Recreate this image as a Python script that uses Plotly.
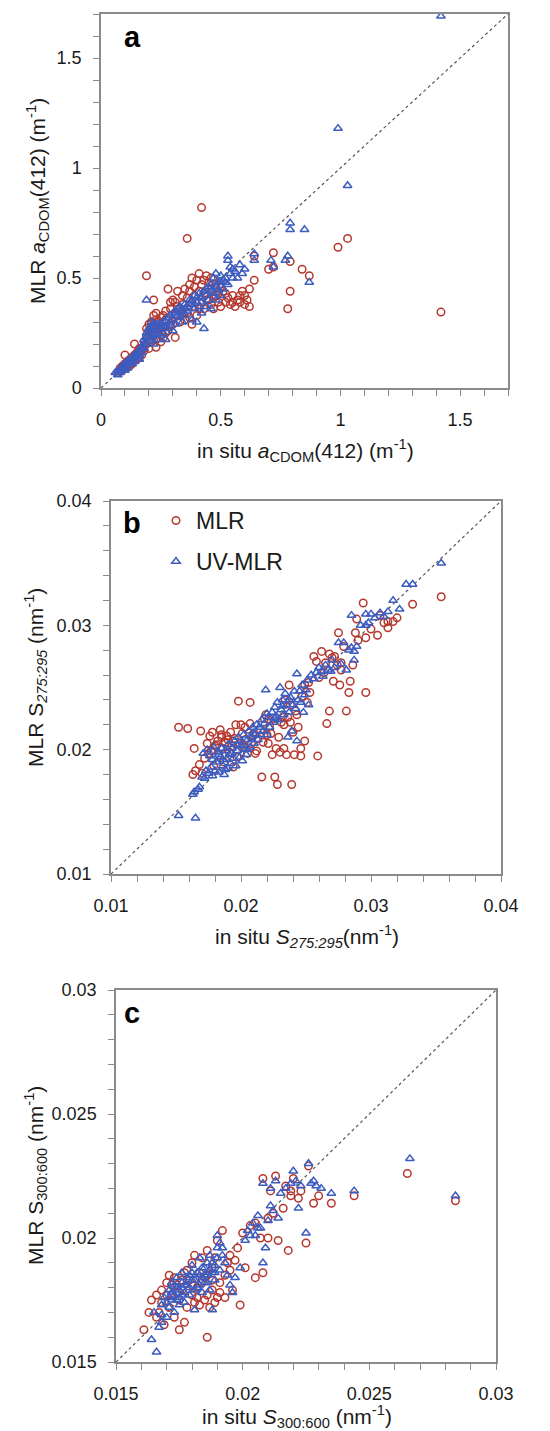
import plotly.graph_objects as go

# ---------------- data ----------------
# Panel a: aCDOM(412) (m^-1)
a_mlr_x = [0.07,0.08,0.09,0.09,0.10,0.10,0.11,0.11,0.12,0.12,0.13,0.13,0.14,0.14,0.10,0.15,0.15,0.16,0.16,0.17,0.17,0.18,0.18,0.19,0.19,0.19,0.20,0.20,0.20,0.21,0.21,0.21,0.22,0.22,0.22,0.23,0.23,0.23,0.24,0.25,0.25,0.26,0.26,0.27,0.27,0.28,0.28,0.29,0.29,0.30,0.30,0.31,0.31,0.32,0.33,0.33,0.34,0.34,0.35,0.35,0.36,0.36,0.37,0.37,0.38,0.38,0.39,0.39,0.40,0.40,0.41,0.41,0.42,0.42,0.43,0.43,0.44,0.44,0.45,0.45,0.46,0.46,0.47,0.48,0.48,0.49,0.50,0.50,0.51,0.52,0.53,0.54,0.55,0.56,0.57,0.58,0.59,0.60,0.61,0.62,0.62,0.64,0.64,0.70,0.72,0.72,0.79,0.84,0.87,0.79,0.78,0.99,1.03,1.42,
             0.08,0.09,0.10,0.11,0.12,0.13,0.14,0.15,0.16,0.17,0.18,0.19,0.20,0.21,0.22,0.23,0.24,0.25,0.26,0.27,0.29,0.31,0.32,0.34,0.36,0.37,0.39,0.41,0.43,0.45,0.47,0.49,0.52,0.55,0.58,0.60]
a_mlr_y = [0.07,0.08,0.09,0.08,0.09,0.11,0.10,0.12,0.12,0.10,0.11,0.14,0.13,0.20,0.15,0.15,0.13,0.16,0.14,0.15,0.18,0.17,0.19,0.20,0.27,0.51,0.22,0.29,0.18,0.24,0.30,0.21,0.26,0.33,0.40,0.34,0.22,0.185,0.30,0.27,0.21,0.23,0.28,0.31,0.25,0.26,0.45,0.39,0.28,0.40,0.29,0.23,0.39,0.44,0.36,0.30,0.42,0.34,0.45,0.31,0.68,0.34,0.44,0.32,0.50,0.29,0.46,0.37,0.49,0.33,0.52,0.36,0.82,0.47,0.49,0.36,0.51,0.40,0.45,0.40,0.38,0.50,0.36,0.42,0.47,0.39,0.37,0.46,0.44,0.39,0.41,0.38,0.42,0.37,0.40,0.39,0.44,0.42,0.40,0.45,0.37,0.49,0.60,0.54,0.55,0.615,0.575,0.54,0.51,0.44,0.36,0.64,0.68,0.345,
             0.09,0.10,0.10,0.11,0.13,0.12,0.15,0.16,0.18,0.17,0.21,0.23,0.26,0.27,0.29,0.31,0.25,0.32,0.33,0.35,0.36,0.33,0.37,0.38,0.41,0.47,0.42,0.44,0.43,0.48,0.41,0.43,0.43,0.39,0.42,0.38]
a_uv_x = [0.06,0.07,0.07,0.08,0.08,0.09,0.09,0.10,0.10,0.11,0.11,0.12,0.12,0.13,0.13,0.14,0.14,0.15,0.15,0.16,0.16,0.17,0.17,0.18,0.18,0.19,0.19,0.19,0.20,0.20,0.21,0.21,0.22,0.22,0.22,0.23,0.23,0.24,0.24,0.25,0.25,0.26,0.26,0.27,0.27,0.28,0.28,0.29,0.30,0.30,0.31,0.31,0.32,0.33,0.33,0.34,0.34,0.35,0.35,0.36,0.36,0.37,0.38,0.38,0.39,0.39,0.40,0.40,0.41,0.41,0.42,0.42,0.43,0.43,0.44,0.44,0.45,0.45,0.46,0.46,0.47,0.47,0.48,0.48,0.49,0.49,0.50,0.50,0.51,0.51,0.52,0.53,0.53,0.53,0.54,0.54,0.55,0.55,0.56,0.57,0.58,0.59,0.60,0.64,0.64,0.71,0.72,0.77,0.78,0.79,0.79,0.85,0.87,0.99,1.03,1.42,
            0.08,0.09,0.10,0.11,0.12,0.13,0.14,0.15,0.16,0.17,0.18,0.19,0.20,0.20,0.21,0.21,0.22,0.23,0.24,0.25,0.26,0.27,0.29,0.30,0.32,0.33,0.35,0.37,0.38,0.40,0.42,0.44,0.46,0.48,0.50,0.52]
a_uv_y = [0.07,0.06,0.07,0.08,0.07,0.08,0.10,0.10,0.08,0.11,0.09,0.11,0.13,0.13,0.11,0.14,0.12,0.14,0.16,0.17,0.13,0.16,0.19,0.20,0.22,0.21,0.25,0.40,0.23,0.27,0.25,0.28,0.24,0.27,0.20,0.26,0.29,0.27,0.22,0.29,0.24,0.30,0.25,0.28,0.22,0.32,0.27,0.33,0.31,0.26,0.35,0.29,0.33,0.37,0.32,0.35,0.30,0.38,0.33,0.37,0.35,0.40,0.38,0.31,0.42,0.36,0.39,0.30,0.43,0.37,0.41,0.34,0.44,0.27,0.42,0.37,0.46,0.40,0.44,0.36,0.50,0.43,0.52,0.40,0.45,0.48,0.48,0.42,0.45,0.49,0.50,0.47,0.58,0.60,0.55,0.52,0.54,0.50,0.53,0.50,0.56,0.52,0.54,0.58,0.61,0.58,0.55,0.58,0.60,0.72,0.75,0.72,0.48,1.18,0.92,1.69,
            0.09,0.09,0.11,0.12,0.12,0.14,0.15,0.15,0.15,0.18,0.18,0.23,0.25,0.21,0.23,0.30,0.29,0.24,0.29,0.27,0.28,0.30,0.30,0.34,0.36,0.34,0.36,0.38,0.40,0.41,0.39,0.45,0.47,0.46,0.51,0.48]

# Panel b: S275:295 (nm^-1)
b_mlr_x = [0.0152,0.0159,0.0163,0.0164,0.0165,0.0168,0.0169,0.0170,0.0172,0.0174,0.0176,0.0177,0.0178,0.0179,0.0180,0.0182,0.0183,0.0185,0.0185,0.0186,0.0187,0.0188,0.0190,0.0191,0.0192,0.0193,0.0194,0.0195,0.0196,0.0197,0.0198,0.0199,0.0200,0.0201,0.0202,0.0203,0.0205,0.0207,0.0207,0.0208,0.0209,0.0211,0.0213,0.0215,0.0216,0.0218,0.0219,0.0220,0.0221,0.0222,0.0224,0.0225,0.0226,0.0227,0.0228,0.0229,0.0230,0.0231,0.0232,0.0233,0.0233,0.0234,0.0235,0.0236,0.0237,0.0238,0.0239,0.0240,0.0241,0.0242,0.0244,0.0246,0.0246,0.0247,0.0249,0.0249,0.0251,0.0253,0.0256,0.0258,0.0259,0.0260,0.0262,0.0264,0.0266,0.0268,0.0268,0.0270,0.0271,0.0272,0.0274,0.0275,0.0276,0.0277,0.0277,0.0281,0.0283,0.0284,0.0286,0.0288,0.0289,0.0290,0.0294,0.0296,0.0296,0.0300,0.0305,0.0307,0.0310,0.0313,0.0313,0.0317,0.0320,0.0332,0.0354,
             0.0175,0.0181,0.0184,0.0189,0.0194,0.0203,0.0212,0.0217,0.0223,0.0238,0.0243,0.0252,0.0265,0.0279]
b_mlr_y = [0.0218,0.0217,0.0180,0.0201,0.0183,0.0188,0.0215,0.0181,0.0193,0.0205,0.0211,0.0199,0.0214,0.0187,0.0203,0.0207,0.0196,0.0212,0.0210,0.0201,0.0190,0.0206,0.0208,0.0198,0.0214,0.0203,0.0186,0.0209,0.0220,0.0194,0.0239,0.0205,0.0220,0.0213,0.0202,0.0208,0.0197,0.0221,0.0238,0.0205,0.0212,0.0197,0.0209,0.0216,0.0178,0.0225,0.0228,0.0212,0.0205,0.0219,0.0196,0.0225,0.0178,0.0201,0.0172,0.0210,0.0198,0.0222,0.0226,0.0220,0.0201,0.0240,0.0196,0.0226,0.0252,0.0236,0.0172,0.0214,0.0196,0.0231,0.0218,0.0201,0.0195,0.0243,0.0207,0.0252,0.0238,0.0246,0.0275,0.0271,0.0195,0.0258,0.0279,0.0262,0.0221,0.0277,0.0231,0.0274,0.0255,0.0275,0.0268,0.0294,0.0252,0.0270,0.0264,0.0231,0.0246,0.0255,0.0268,0.0294,0.0305,0.0288,0.0318,0.0290,0.0246,0.0297,0.0292,0.0308,0.0302,0.0303,0.0298,0.0303,0.0306,0.0317,0.0323,
             0.0197,0.0204,0.0216,0.0211,0.0207,0.0218,0.0199,0.0206,0.0213,0.0222,0.0228,0.0254,0.0270,0.0283]
b_uv_x = [0.0152,0.0163,0.0164,0.0165,0.0167,0.0168,0.0170,0.0171,0.0172,0.0173,0.0174,0.0175,0.0176,0.0177,0.0178,0.0179,0.0180,0.0181,0.0182,0.0183,0.0184,0.0185,0.0186,0.0187,0.0188,0.0189,0.0190,0.0190,0.0191,0.0192,0.0193,0.0194,0.0195,0.0196,0.0197,0.0198,0.0199,0.0200,0.0201,0.0202,0.0203,0.0204,0.0205,0.0206,0.0207,0.0208,0.0209,0.0210,0.0211,0.0212,0.0213,0.0215,0.0216,0.0217,0.0218,0.0219,0.0220,0.0221,0.0222,0.0224,0.0225,0.0226,0.0227,0.0228,0.0229,0.0230,0.0231,0.0232,0.0233,0.0234,0.0235,0.0236,0.0237,0.0238,0.0239,0.0240,0.0241,0.0242,0.0243,0.0243,0.0244,0.0246,0.0247,0.0248,0.0249,0.0251,0.0252,0.0254,0.0256,0.0258,0.0260,0.0263,0.0265,0.0267,0.0269,0.0272,0.0275,0.0277,0.0279,0.0281,0.0283,0.0285,0.0285,0.0287,0.0287,0.0289,0.0292,0.0296,0.0296,0.0298,0.0300,0.0303,0.0307,0.0310,0.0313,0.0317,0.0322,0.0327,0.0332,0.0354,
            0.0178,0.0183,0.0186,0.0188,0.0193,0.0197,0.0201,0.0205,0.0210,0.0214,0.0220,0.0226,0.0232,0.0237,0.0245,0.0250,0.0262,0.0270]
b_uv_y = [0.0147,0.0164,0.0166,0.0145,0.0168,0.0170,0.0178,0.0197,0.0177,0.0183,0.0200,0.0181,0.0195,0.0186,0.0179,0.0202,0.0183,0.0190,0.0198,0.0182,0.0194,0.0201,0.0187,0.0180,0.0199,0.0192,0.0185,0.0204,0.0196,0.0189,0.0201,0.0193,0.0207,0.0187,0.0199,0.0210,0.0194,0.0203,0.0191,0.0212,0.0200,0.0196,0.0208,0.0215,0.0202,0.0210,0.0218,0.0205,0.0212,0.0220,0.0208,0.0212,0.0224,0.0215,0.0221,0.0248,0.0212,0.0226,0.0218,0.0230,0.0222,0.0234,0.0227,0.0238,0.0224,0.0250,0.0232,0.0240,0.0228,0.0245,0.0236,0.0210,0.0230,0.0242,0.0215,0.0236,0.0247,0.0233,0.0261,0.0207,0.0240,0.0238,0.0252,0.0230,0.0244,0.0256,0.0236,0.0260,0.0257,0.0262,0.0266,0.0259,0.0268,0.0264,0.0263,0.0266,0.0286,0.0269,0.0286,0.0264,0.0280,0.0282,0.0308,0.0279,0.0272,0.0283,0.0300,0.0300,0.0309,0.0302,0.0309,0.0306,0.0310,0.0307,0.0311,0.0320,0.0313,0.0333,0.0333,0.0350,
            0.0192,0.0196,0.0192,0.0184,0.0197,0.0204,0.0206,0.0200,0.0213,0.0218,0.0229,0.0225,0.0235,0.0240,0.0247,0.0248,0.0263,0.0272]

# Panel c: S300:600 (nm^-1)
c_mlr_x = [0.0161,0.0163,0.0164,0.0166,0.0166,0.0167,0.0168,0.0169,0.0170,0.0171,0.0171,0.0172,0.0173,0.0173,0.0174,0.0175,0.0175,0.0176,0.0177,0.0177,0.0178,0.0179,0.0180,0.0180,0.0181,0.0181,0.0182,0.0183,0.0183,0.0184,0.0185,0.0185,0.0186,0.0186,0.0186,0.0187,0.0188,0.0188,0.0189,0.0190,0.0190,0.0191,0.0192,0.0193,0.0194,0.0195,0.0196,0.0197,0.0199,0.0200,0.0201,0.0205,0.0205,0.0207,0.0208,0.0208,0.0210,0.0210,0.0211,0.0213,0.0214,0.0216,0.0218,0.0219,0.0219,0.0220,0.0222,0.0225,0.0226,0.0228,0.0230,0.0235,0.0244,0.0265,0.0284,
             0.0168,0.0170,0.0172,0.0174,0.0176,0.0178,0.0180,0.0182,0.0184,0.0186,0.0188,0.0189,0.0191,0.0193,0.0195,0.0198,0.0203,0.0212,0.0217,0.0223]
c_mlr_y = [0.0163,0.0170,0.0175,0.0177,0.0168,0.0170,0.0179,0.0165,0.0182,0.0185,0.0172,0.0177,0.0168,0.0184,0.0181,0.0175,0.0163,0.0179,0.0166,0.0186,0.0172,0.0183,0.0177,0.0190,0.0193,0.0174,0.0180,0.0186,0.0173,0.0192,0.0175,0.0184,0.0177,0.0195,0.0160,0.0172,0.0188,0.0179,0.0174,0.0176,0.0199,0.0182,0.0203,0.0176,0.0190,0.0187,0.0179,0.0191,0.0173,0.0202,0.0188,0.0206,0.0184,0.0200,0.0186,0.0224,0.0200,0.0208,0.0219,0.0225,0.0199,0.0212,0.0195,0.0219,0.0217,0.0224,0.0216,0.0198,0.0229,0.0214,0.0217,0.0214,0.0217,0.0226,0.0215,
             0.0174,0.0177,0.0181,0.0178,0.0183,0.0187,0.0181,0.0176,0.0182,0.0185,0.0183,0.0192,0.0178,0.0185,0.0193,0.0196,0.0205,0.0210,0.0221,0.0219]
c_uv_x = [0.0164,0.0165,0.0166,0.0167,0.0168,0.0168,0.0169,0.0170,0.0171,0.0171,0.0172,0.0172,0.0173,0.0173,0.0174,0.0174,0.0175,0.0175,0.0176,0.0176,0.0177,0.0177,0.0178,0.0179,0.0179,0.0180,0.0180,0.0181,0.0181,0.0182,0.0183,0.0183,0.0184,0.0184,0.0185,0.0185,0.0186,0.0186,0.0187,0.0187,0.0188,0.0188,0.0189,0.0189,0.0190,0.0190,0.0191,0.0191,0.0192,0.0193,0.0194,0.0195,0.0196,0.0199,0.0201,0.0203,0.0204,0.0205,0.0206,0.0207,0.0208,0.0208,0.0209,0.0210,0.0211,0.0212,0.0213,0.0214,0.0217,0.0219,0.0220,0.0222,0.0223,0.0225,0.0226,0.0227,0.0229,0.0231,0.0235,0.0244,0.0266,0.0284,
            0.0168,0.0170,0.0171,0.0172,0.0173,0.0174,0.0175,0.0176,0.0177,0.0178,0.0179,0.0180,0.0181,0.0182,0.0183,0.0184,0.0185,0.0186,0.0187,0.0188,0.0189,0.0190,0.0192,0.0197,0.0202,0.0206,0.0211,0.0215,0.0221,0.0228]
c_uv_y = [0.0159,0.0170,0.0154,0.0164,0.0173,0.0166,0.0176,0.0168,0.0179,0.0172,0.0182,0.0175,0.0177,0.0170,0.0184,0.0180,0.0176,0.0173,0.0182,0.0186,0.0178,0.0174,0.0181,0.0185,0.0177,0.0183,0.0189,0.0179,0.0171,0.0186,0.0181,0.0192,0.0184,0.0178,0.0188,0.0182,0.0190,0.0185,0.0179,0.0193,0.0186,0.0171,0.0189,0.0183,0.0196,0.0201,0.0187,0.0198,0.0193,0.0190,0.0185,0.0181,0.0178,0.0188,0.0199,0.0201,0.0206,0.0201,0.0209,0.0204,0.0190,0.0222,0.0196,0.0207,0.0220,0.0211,0.0223,0.0208,0.0220,0.0222,0.0227,0.0212,0.0221,0.0202,0.0230,0.0222,0.0221,0.0220,0.0218,0.0219,0.0232,0.0217,
            0.0169,0.0174,0.0176,0.0178,0.0181,0.0175,0.0179,0.0177,0.0181,0.0184,0.0180,0.0186,0.0183,0.0180,0.0185,0.0188,0.0185,0.0182,0.0187,0.0190,0.0186,0.0192,0.0196,0.0184,0.0203,0.0204,0.0213,0.0218,0.0223,0.0223]

ranges = {"a": [0, 1.7], "b": [0.01, 0.04], "c": [0.015, 0.03]}
majors = {"a": 0.5, "b": 0.01, "c": 0.005}
minors = {"a": 0.1, "b": 0.002, "c": 0.001}
series_names = ["MLR", "UV-MLR"]

# ---------------- style ----------------
W, H = 550, 1431
RED = "#b5382f"
BLUE = "#3d5cc0"
FONT = "Arial, Liberation Sans, Helvetica, sans-serif"
TXT = "#1a1a1a"
AX = "#8a8a8a"

# panel pixel boxes: (left, right, top, bottom)
boxes = {"a": (93, 500, 6, 380), "b": (103, 493, 493, 866), "c": (108, 488, 982, 1354)}

def xd(px):
    return px / W

def yd(py):
    return 1 - py / H

fig = go.Figure()
panels = [("a", "", a_mlr_x, a_mlr_y, a_uv_x, a_uv_y),
          ("b", "2", b_mlr_x, b_mlr_y, b_uv_x, b_uv_y),
          ("c", "3", c_mlr_x, c_mlr_y, c_uv_x, c_uv_y)]

for key, sfx, mx, my, ux, uy in panels:
    xa, ya = "x" + sfx, "y" + sfx
    r = ranges[key]
    fig.add_trace(go.Scatter(x=r, y=r, mode="lines", xaxis=xa, yaxis=ya,
                             line=dict(color="#555555", width=1.2, dash="dot"),
                             showlegend=False, hoverinfo="skip"))
    fig.add_trace(go.Scatter(x=mx, y=my, mode="markers", xaxis=xa, yaxis=ya,
                             name=series_names[0], legendgroup="mlr",
                             showlegend=(key == "b"),
                             marker=dict(symbol="circle-open", size=7.5, color=RED,
                                         line=dict(width=1.5, color=RED))))
    fig.add_trace(go.Scatter(x=ux, y=uy, mode="markers", xaxis=xa, yaxis=ya,
                             name=series_names[1], legendgroup="uv",
                             showlegend=(key == "b"),
                             marker=dict(symbol="triangle-up-open", size=7.5, color=BLUE,
                                         line=dict(width=1.5, color=BLUE))))

    l, rt, t, b = boxes[key]
    common = dict(showline=True, linecolor=AX, linewidth=1.5, mirror=True,
                  ticks="outside", ticklen=6, tickwidth=1.2, tickcolor=AX,
                  showgrid=False, zeroline=False, dtick=majors[key], tick0=r[0],
                  range=r, automargin=False,
                  tickfont=dict(family=FONT, size=18, color=TXT),
                  minor=dict(dtick=minors[key], tick0=r[0], ticks="outside",
                             ticklen=6, tickwidth=1.2, tickcolor=AX, showgrid=False))
    xname = "xaxis" + sfx
    yname = "yaxis" + sfx
    fig.layout[xname] = dict(domain=[xd(l), xd(rt)], anchor=ya, ticklabelstandoff=9, **common)
    fig.layout[yname] = dict(domain=[yd(b), yd(t)], anchor=xa, ticklabelstandoff=8, **common)

title_font = dict(family=FONT, size=21, color=TXT)
annotations = [
    # panel letters
    dict(text="<b>a</b>", x=xd(124), y=yd(29)),
    dict(text="<b>b</b>", x=xd(124), y=yd(515)),
    dict(text="<b>c</b>", x=xd(124), y=yd(1005)),
]
for ann in annotations:
    ann.update(xref="paper", yref="paper", showarrow=False,
               font=dict(family=FONT, size=29, color="#000"), xanchor="center", yanchor="middle")

titles = [
    dict(text="in situ <i>a</i><sub>CDOM</sub>(412) (m<sup>-1</sup>)", x=xd(297), y=yd(442), textangle=0),
    dict(text="MLR <i>a</i><sub>CDOM</sub>(412) (m<sup>-1</sup>)", x=xd(30), y=yd(193), textangle=-90),
    dict(text="in situ <i>S</i><sub><i>275:295</i></sub>(nm<sup>-1</sup>)", x=xd(299), y=yd(929), textangle=0),
    dict(text="MLR S<sub><i>275:295</i></sub> (nm<sup>-1</sup>)", x=xd(27), y=yd(670), textangle=-90),
    dict(text="in situ <i>S</i><sub>300:600</sub> (nm<sup>-1</sup>)", x=xd(289), y=yd(1408), textangle=0),
    dict(text="MLR S<sub>300:600</sub> (nm<sup>-1</sup>)", x=xd(27), y=yd(1168), textangle=-90),
]
for tt in titles:
    tt.update(xref="paper", yref="paper", showarrow=False, font=title_font,
              xanchor="center", yanchor="middle")
annotations += titles

fig.update_layout(
    width=W, height=H,
    margin=dict(l=0, r=0, t=0, b=0, autoexpand=False),
    paper_bgcolor="white", plot_bgcolor="white",
    annotations=annotations,
    showlegend=True,
    legend=dict(x=xd(148), y=yd(491), xanchor="left", yanchor="top",
                font=dict(family=FONT, size=23, color=TXT),
                bgcolor="rgba(0,0,0,0)", traceorder="grouped", tracegroupgap=8,
                itemsizing="trace"),
)

fig.write_html("out.html")
